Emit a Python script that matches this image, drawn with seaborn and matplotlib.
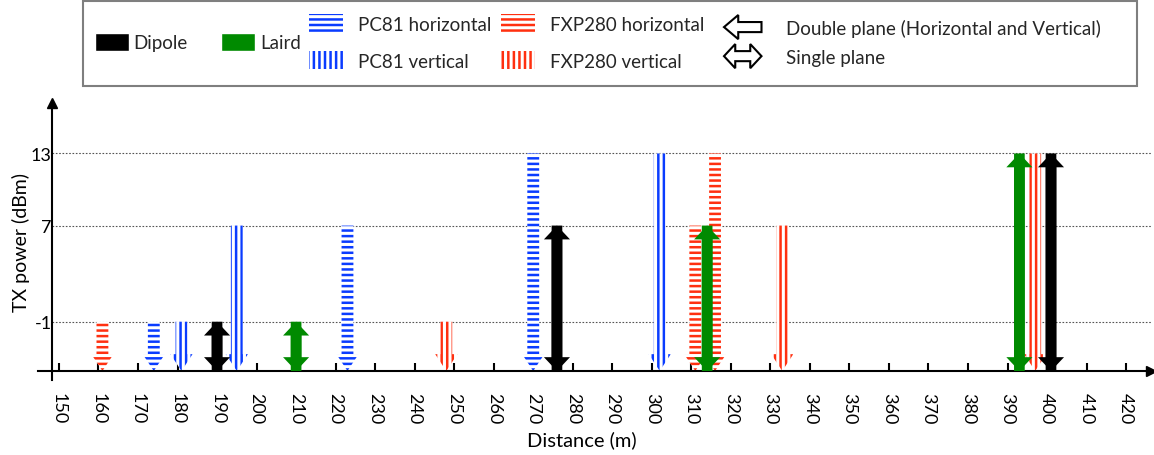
import matplotlib
matplotlib.use("Agg")
import matplotlib.pyplot as plt
import matplotlib.patches as mpatches
from matplotlib.legend_handler import HandlerPatch
import seaborn as sns

# distance (m) and TX power (dBm) for each antenna / polarisation
pc81_h_dist = [174, 223, 270]
pc81_h_power = [-1, 7, 13]
pc81_v_dist = [181, 195, 302]
pc81_v_power = [-1, 7, 13]
fxp_h_dist = [161, 311, 316]
fxp_h_power = [-1, 7, 13]
fxp_v_dist = [248, 333, 397]
fxp_v_power = [-1, 7, 13]
dipole_dist = [190, 276, 401]
dipole_power = [-1, 7, 13]
laird_dist = [210, 314, 393]
laird_power = [-1, 7, 13]

power_ticks = [-1, 7, 13]
dist_ticks = list(range(150, 430, 10))

BLUE = "#0a3cff"
RED = "#ff3010"
GREEN = "#008a00"

sns.set_theme(style="ticks")
plt.rcParams["font.family"] = ["Lato", "DejaVu Sans"]
plt.rcParams["hatch.linewidth"] = 1.8
plt.rcParams["axes.unicode_minus"] = False

W, H = 1154, 456
fig = plt.figure(figsize=(W / 100, H / 100), dpi=100)
ax = fig.add_axes([38 / W, (H - 381) / H, (1151 - 38) / W, (381 - 104) / H])

x0, x1 = 144.7, 426.3
floor = -5.1
ax.set_xlim(x0, x1)
ax.set_ylim(-5.85, 17.2)
yaxis_x = 148.2

# hatched single-headed arrows (double plane)
for dists, powers, col, hatch in [
    (pc81_h_dist, pc81_h_power, BLUE, "---"),
    (pc81_v_dist, pc81_v_power, BLUE, "|||"),
    (fxp_h_dist, fxp_h_power, RED, "---"),
    (fxp_v_dist, fxp_v_power, RED, "|||"),
]:
    for d, p in zip(dists, powers):
        ax.arrow(d, p, 0, floor - p, width=3.0, head_width=5.6, head_length=1.4,
                 length_includes_head=True, facecolor="white", edgecolor=col,
                 linewidth=0, hatch=hatch, zorder=2)

# solid double-headed arrows (single plane)
for dists, powers, col in [(dipole_dist, dipole_power, "black"),
                           (laird_dist, laird_power, GREEN)]:
    for d, p in zip(dists, powers):
        ax.arrow(d, floor, 0, p - floor, width=2.7, head_width=6.6, head_length=1.15,
                 length_includes_head=True, color=col, linewidth=0, zorder=3)
        ax.arrow(d, p, 0, floor - p, width=2.7, head_width=6.6, head_length=1.15,
                 length_includes_head=True, color=col, linewidth=0, zorder=3)

ax.hlines(power_ticks, yaxis_x, x1, colors="#555555", linestyles=(0, (1.5, 1.5)),
          linewidth=0.8, zorder=1)

sns.despine(ax=ax)
ax.spines["left"].set_position(("data", yaxis_x))
ax.spines["bottom"].set_position(("data", floor))
for s in ["left", "bottom"]:
    ax.spines[s].set_color("black")
    ax.spines[s].set_linewidth(1.5)
ax.plot(1, floor, ">", color="black", ms=7, transform=ax.get_yaxis_transform(), clip_on=False)
ax.plot(yaxis_x, 1, "^", color="black", ms=7, transform=ax.get_xaxis_transform(), clip_on=False)

ax.set_xticks(dist_ticks)
ax.set_xticklabels([str(t) for t in dist_ticks], rotation=-90)
ax.set_yticks(power_ticks)
ax.tick_params(axis="x", direction="in", length=6, width=1.5, color="black",
               labelsize=13, pad=15, labelcolor="black")
ax.tick_params(axis="y", length=0, labelsize=13, pad=0, labelcolor="black")
ax.set_xlabel("Distance (m)", fontsize=14.5, color="black")
ax.set_ylabel("TX power (dBm)", fontsize=14, color="black")
ax.xaxis.set_label_coords((582 - 38) / (1151 - 38), -(431 - 381) / 277)
ax.yaxis.set_label_coords(-(38 - 30) / (1151 - 38), 0.5)


# legend
def left_arrow(legend, orig_handle, xdescent, ydescent, width, height, fontsize):
    xa, ya = -xdescent, -ydescent
    cy = ya + height / 2
    hl, hh, sh = 0.38 * width, 0.72 * height, 0.3 * height
    return mpatches.Polygon([(xa, cy), (xa + hl, cy + hh), (xa + hl, cy + sh),
                             (xa + width, cy + sh), (xa + width, cy - sh),
                             (xa + hl, cy - sh), (xa + hl, cy - hh)], closed=True)


def double_arrow(legend, orig_handle, xdescent, ydescent, width, height, fontsize):
    xa, ya = -xdescent, -ydescent
    cy = ya + height / 2
    hl, hh, sh = 0.3 * width, 0.72 * height, 0.3 * height
    xb = xa + width
    return mpatches.Polygon([(xa, cy), (xa + hl, cy + hh), (xa + hl, cy + sh),
                             (xb - hl, cy + sh), (xb - hl, cy + hh), (xb, cy),
                             (xb - hl, cy - hh), (xb - hl, cy - sh),
                             (xa + hl, cy - sh), (xa + hl, cy - hh)], closed=True)


fig.patches.append(mpatches.Rectangle((83 / W, 1 - 87 / H), (1137 - 83) / W, 85 / H,
                                      transform=fig.transFigure, fill=False,
                                      edgecolor="#7f7f7f", linewidth=1.5))
cy_leg = 1 - 43 / H
fs = 13.5

h_dip = mpatches.Patch(facecolor="black", label="Dipole")
h_lai = mpatches.Patch(facecolor=GREEN, label="Laird")
fig.legend(handles=[h_dip, h_lai], loc="center left", bbox_to_anchor=(95 / W, cy_leg),
           ncol=2, frameon=False, borderpad=0, borderaxespad=0, fontsize=fs,
           handlelength=1.8, handleheight=1.1, handletextpad=0.25, columnspacing=1.8)

hatch_handles = [
    mpatches.Patch(facecolor="white", edgecolor=BLUE, linewidth=0, hatch="---", label="PC81 horizontal"),
    mpatches.Patch(facecolor="white", edgecolor=BLUE, linewidth=0, hatch="|||", label="PC81 vertical"),
    mpatches.Patch(facecolor="white", edgecolor=RED, linewidth=0, hatch="---", label="FXP280 horizontal"),
    mpatches.Patch(facecolor="white", edgecolor=RED, linewidth=0, hatch="|||", label="FXP280 vertical"),
]
fig.legend(handles=hatch_handles, loc="center left", bbox_to_anchor=(309 / W, cy_leg),
           ncol=2, frameon=False, borderpad=0, borderaxespad=0, fontsize=fs,
           handlelength=1.8, handleheight=1.1, handletextpad=0.8, columnspacing=0.55,
           labelspacing=1.0)

h_dbl = mpatches.Patch(facecolor="white", edgecolor="black", linewidth=1.5,
                       label="Double plane (Horizontal and Vertical)")
h_sgl = mpatches.Patch(facecolor="white", edgecolor="black", linewidth=1.5,
                       label="Single plane")
fig.legend(handles=[h_dbl, h_sgl], loc="center left", bbox_to_anchor=(724 / W, cy_leg),
           frameon=False, borderpad=0, borderaxespad=0, fontsize=fs,
           handlelength=2.0, handleheight=1.0, handletextpad=1.3, labelspacing=0.6,
           handler_map={h_dbl: HandlerPatch(patch_func=left_arrow),
                        h_sgl: HandlerPatch(patch_func=double_arrow)})

fig.savefig("out.png", dpi=100)
